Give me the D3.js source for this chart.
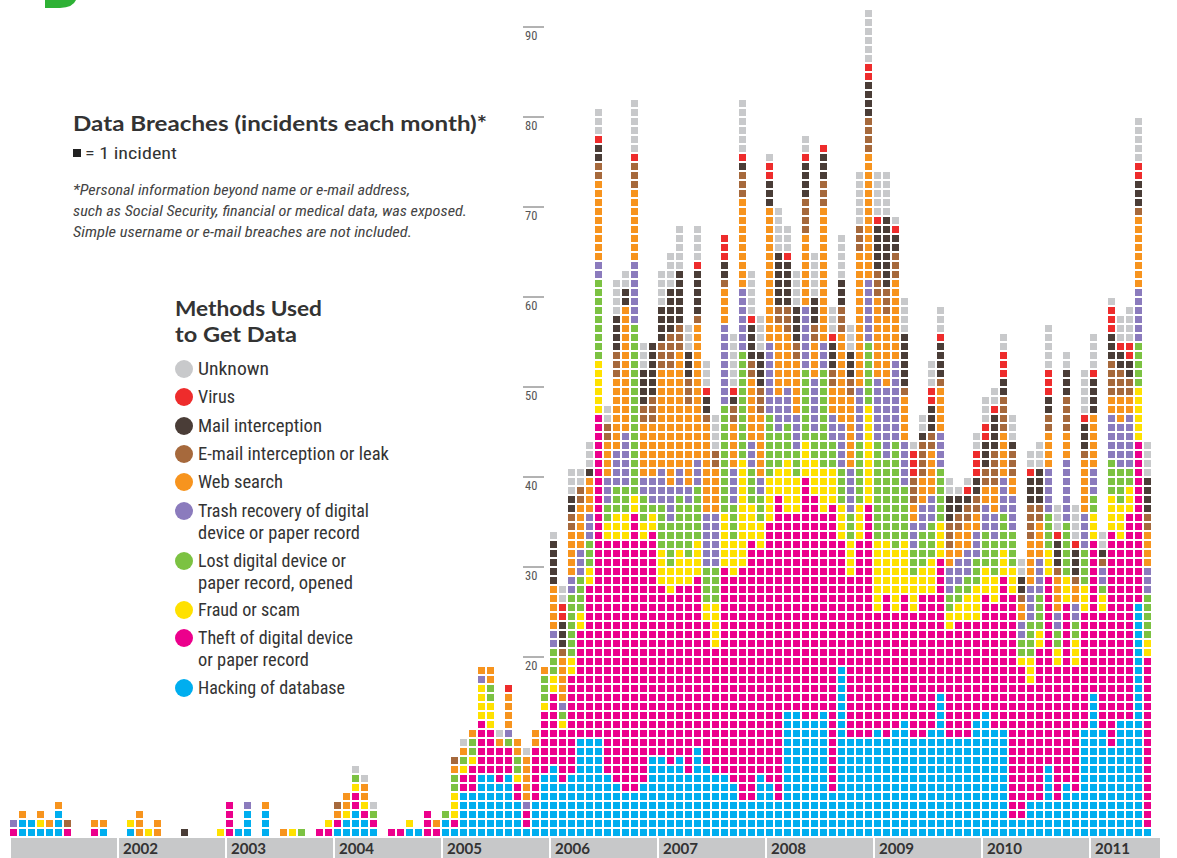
<!DOCTYPE html>
<html><head><meta charset="utf-8">
<script src="https://cdn.jsdelivr.net/npm/d3@7"></script>
<style>body{margin:0;background:#fff}svg{display:block}</style>
</head><body><svg id="c" width="1177" height="858"></svg>
<script>
// ---------- DATA ----------
const years = [2001,2002,2003,2004,2005,2006,2007,2008,2009,2010,2011];
const yearLabels = ["","2002","2003","2004","2005","2006","2007","2008","2009","2010","2011"];
const nMonths = 127; // Jan 2001 .. Jul 2011
const months = d3.range(nMonths).map(i => years[Math.floor(i/12)] + "-" + String(i%12+1).padStart(2,"0"));
const yTicks = [20,30,40,50,60,70,80,90];

// stack order bottom -> top
const categories = ["Hacking of database","Theft of digital device or paper record","Fraud or scam",
  "Lost digital device or paper record, opened","Trash recovery of digital device or paper record",
  "Web search","E-mail interception or leak","Mail interception","Virus","Unknown"];

const hacking = [0,2,2,1,1,3,0,0,0,0, 1,0,0,1,0,0,0,0,0,0, 0,0,0,0,0,1,3,0,3,0, 0,0,0,0,0,0,1,2,3,2,
 1,0,0,0,1,1,0,0,2,1, 5,5,7,7,6,7,4,1,4,7, 8,6,7,11,11,11,7,6,5,5, 6,9,9,8,9,7,10,8,7,7,
 6,4,4,7,6,4,14,14,13,13, 14,5,19,11,11,11,12,11,12,13, 11,11,12,16,11,11,11,13,14,12,
 12,2,2,4,4,8,4,6,5,12, 16,12,10,13,13,26,1];
const theft = [1,0,0,0,0,0,1,0,0,1, 0,0,0,0,0,0,0,0,0,0, 0,0,0,0,4,0,0,0,0,0, 0,0,0,0,1,1,1,0,2,1,
 1,0,1,1,0,0,3,1,0,1, 2,3,6,5,4,3,2,2,6,7, 8,6,11,12,17,36,26,27,28,31, 27,25,19,19,19,21,19,16,14,23,
 23,26,29,25,29,34,22,22,27,25, 22,32,14,18,22,26,13,16,13,14, 14,16,15,15,12,13,13,11,13,14,
 17,25,17,13,17,21,15,20,14,13, 17,13,24,20,23,18,19];
const fraud = [0,0,0,1,0,0,0,0,0,0, 0,0,0,1,0,1,0,0,0,0, 0,0,0,1,0,0,0,0,0,0, 0,1,0,0,0,1,0,1,1,1,
 0,0,0,0,1,0,0,0,0,3, 1,1,4,3,0,0,1,0,0,1, 2,1,2,2,2,6,2,3,3,2, 2,2,4,3,4,3,4,2,5,6,
 4,12,4,3,5,3,6,4,4,4, 5,4,4,4,4,11,8,6,7,6, 4,3,4,4,2,2,3,4,3,3,
 3,3,1,3,2,3,2,3,3,3, 3,2,4,4,3,6,2];
const lost = [0,0,0,0,0,0,0,0,0,0, 0,0,0,0,0,0,0,0,0,0, 0,0,0,0,0,0,0,0,0,0, 0,0,1,0,0,0,0,0,1,0,
 1,0,0,0,0,0,0,0,1,2, 1,2,0,2,0,1,2,0,0,3, 3,1,7,4,3,9,2,3,3,19, 3,1,5,5,6,6,6,4,4,12,
 4,12,4,3,7,4,4,3,8,3, 11,3,4,3,7,7,11,9,12,6, 3,4,4,6,2,2,2,3,4,4,
 4,4,2,4,4,4,2,6,2,4, 2,1,4,4,2,5,5];
const trash = [1,0,0,0,0,0,0,0,0,0, 0,0,0,0,0,0,0,0,0,0, 0,0,0,0,0,0,1,0,0,0, 0,0,0,0,0,0,0,0,0,0,
 0,0,0,0,0,0,0,0,0,0, 0,0,1,0,0,1,0,1,0,0, 2,1,2,3,3,2,3,4,6,7, 2,3,4,4,3,2,3,6,6,9,
 4,7,3,2,8,4,4,4,7,6, 3,3,5,5,6,7,7,8,9,5, 3,3,3,4,3,3,3,3,3,3,
 4,4,2,4,4,5,2,7,2,4, 3,2,5,5,6,6,3];
const web = [0,1,0,1,1,1,0,0,0,1, 1,0,0,0,3,0,2,0,0,0, 0,0,0,0,0,0,0,0,1,0, 1,0,0,0,0,0,1,2,0,2,
 0,0,0,0,0,0,0,1,0,1, 1,1,1,2,1,4,2,5,2,1, 5,5,5,5,4,9,4,8,14,8, 6,6,11,13,13,9,15,10,5,4,
 5,10,7,7,15,8,6,6,8,4, 15,3,10,8,15,14,9,8,9,5, 2,3,5,5,2,3,3,2,2,3,
 5,2,2,5,4,4,4,3,2,6, 6,0,2,3,2,8,4];
const email = [0,0,0,0,0,0,1,0,0,0, 0,0,0,0,0,0,0,0,0,0, 0,0,0,0,0,0,0,0,0,0, 0,0,0,0,0,0,1,0,0,0,
 0,0,0,0,0,0,0,0,0,1, 0,0,0,0,0,0,0,0,0,0, 0,1,2,2,0,2,2,3,0,3, 2,3,3,4,3,3,1,1,2,1,
 2,3,2,3,0,2,3,2,4,2, 3,2,3,2,3,4,3,3,3,1, 3,4,2,1,3,2,2,2,2,4,
 4,3,1,4,2,2,1,4,1,1, 0,1,4,3,2,1,2];
const mail = [0,0,0,0,0,0,0,0,0,0, 0,0,0,0,0,0,0,0,0,1, 0,0,0,0,0,0,0,0,0,0, 0,0,0,0,0,0,0,0,0,0,
 0,0,0,0,0,0,0,0,0,0, 0,0,0,0,0,0,0,0,0,0, 5,3,2,0,1,2,0,4,2,0, 4,6,4,5,6,3,5,2,0,2,
 1,1,4,4,3,6,5,4,4,3, 3,3,3,3,0,4,5,8,2,6, 0,1,3,4,3,2,1,2,3,4,
 2,1,2,3,4,2,3,3,3,3, 4,1,3,2,2,3,4];
const virus = [0,0,0,0,0,0,0,0,0,0, 0,0,0,0,0,0,0,0,0,0, 0,0,0,0,0,0,0,0,0,0, 0,0,0,0,0,0,0,0,0,0,
 0,0,0,0,0,0,0,0,0,0, 0,0,0,0,0,1,0,0,0,0, 0,2,0,0,0,1,0,0,0,1, 0,0,0,0,0,0,1,1,0,3,
 1,1,1,0,2,0,1,0,1,0, 1,1,0,0,0,2,1,0,1,0, 3,0,2,1,0,0,1,3,2,1,
 3,0,0,1,0,3,1,0,1,1, 1,0,3,1,2,2,0];
const unknown = [0,0,0,0,0,0,0,0,0,0, 0,0,0,0,0,0,0,0,0,0, 0,0,0,0,0,0,0,0,0,0, 0,0,0,0,0,0,0,0,1,1,
 1,0,0,0,0,0,0,0,0,0, 1,0,0,0,1,0,0,1,0,0, 1,2,3,2,3,3,2,4,2,6, 3,0,4,4,5,3,4,3,4,0,
 6,6,5,4,1,5,3,4,2,5, 0,3,5,3,6,6,5,5,1,4, 1,2,3,3,2,1,1,2,3,2,
 2,3,2,2,3,5,3,2,4,5, 4,2,1,3,4,5,4];

const series = [hacking, theft, fraud, lost, trash, web, email, mail, virus, unknown];

// legend (top -> bottom), label lines
const legendItems = [
  {cat:"Unknown", lines:["Unknown"]},
  {cat:"Virus", lines:["Virus"]},
  {cat:"Mail interception", lines:["Mail interception"]},
  {cat:"E-mail interception or leak", lines:["E-mail interception or leak"]},
  {cat:"Web search", lines:["Web search"]},
  {cat:"Trash recovery of digital device or paper record", lines:["Trash recovery of digital","device or paper record"]},
  {cat:"Lost digital device or paper record, opened", lines:["Lost digital device or","paper record, opened"]},
  {cat:"Fraud or scam", lines:["Fraud or scam"]},
  {cat:"Theft of digital device or paper record", lines:["Theft of digital device","or paper record"]},
  {cat:"Hacking of database", lines:["Hacking of database"]}
];

// ---------- STYLE ----------
const colors = {
  "Hacking of database":"#00aeef",
  "Theft of digital device or paper record":"#ec008c",
  "Fraud or scam":"#ffe100",
  "Lost digital device or paper record, opened":"#7cc242",
  "Trash recovery of digital device or paper record":"#8b7bbd",
  "Web search":"#f7941e",
  "E-mail interception or leak":"#a6693c",
  "Mail interception":"#4a3d37",
  "Virus":"#ee2c2c",
  "Unknown":"#c8c9cb"
};
const condensed = "'Liberation Sans Narrow','Roboto Condensed','DejaVu Sans Condensed','Noto Sans',sans-serif";
const bold = "Lato,'Open Sans','Noto Sans',sans-serif";

const svg = d3.select("#c");

const x = d3.scaleBand().domain(months).range([10, 10 + nMonths*9 - 2]).paddingInner(2/9).paddingOuter(0);
const y = d3.scaleLinear().domain([0, 93]).range([837, 837 - 93*9]);

// green fragment at the top-left edge (cropped letter)
svg.append("path").attr("d","M45,0 L45,8 L60,8 Q73,7.5 76,0 Z").attr("fill","#2eb135");

// squares
const squares = [];
months.forEach((m, i) => {
  let k = 0;
  series.forEach((s, c) => {
    for (let j = 0; j < s[i]; j++) { squares.push({m, k, cat: categories[c]}); k++; }
  });
});
svg.append("g").selectAll("rect").data(squares).join("rect")
  .attr("x", d => x(d.m))
  .attr("y", d => y(d.k + 1) + 1)
  .attr("width", x.bandwidth())
  .attr("height", d => y(d.k) - y(d.k + 1) - 2)
  .attr("fill", d => colors[d.cat]);

// y axis labels
const yg = svg.append("g");
yTicks.forEach(t => {
  yg.append("line").attr("x1",523).attr("x2",544).attr("y1",y(t)).attr("y2",y(t))
    .attr("stroke","#666").attr("stroke-width",1);
  yg.append("text").attr("x",525).attr("y",y(t)+13).attr("font-family",condensed)
    .attr("font-size",12.5).attr("fill","#555").text(t);
});

// bottom year band
const bg = svg.append("g");
years.forEach((yr, idx) => {
  const x0 = x(months[idx*12]) + 1;
  const x1 = idx < years.length - 1 ? x(months[(idx+1)*12]) - 1 : 1160;
  bg.append("rect").attr("x",x0).attr("y",838).attr("width",x1 - x0).attr("height",20).attr("fill","#c7c8c9");
  if (yearLabels[idx]) bg.append("text").attr("x",x0+4).attr("y",853.5).attr("font-family",bold)
    .attr("font-weight",700).attr("font-size",14.5).attr("fill","#333").attr("textLength",35)
    .attr("lengthAdjust","spacingAndGlyphs").text(yearLabels[idx]);
});

// title block
svg.append("text").attr("x",73).attr("y",131).attr("font-family",bold).attr("font-weight",700)
  .attr("font-size",20).attr("fill","#333").attr("textLength",414).attr("lengthAdjust","spacingAndGlyphs")
  .text("Data Breaches (incidents each month)*");
svg.append("rect").attr("x",73).attr("y",149).attr("width",8).attr("height",8).attr("fill","#222");
svg.append("text").attr("x",85).attr("y",159).attr("font-family",condensed).attr("font-size",17)
  .attr("fill","#333").attr("textLength",92).attr("lengthAdjust","spacingAndGlyphs").text("= 1 incident");
const foot = [
  ["*Personal information beyond name or e-mail address,",337],
  ["such as Social Security, financial or medical data, was exposed.",394],
  ["Simple username or e-mail breaches are not included.",339]
];
foot.forEach((f,i) => svg.append("text").attr("x",73).attr("y",195 + i*21).attr("font-family",condensed)
  .attr("font-style","italic").attr("font-size",14.5).attr("fill","#444")
  .attr("textLength",f[1]).attr("lengthAdjust","spacingAndGlyphs").text(f[0]));

svg.append("text").attr("x",175).attr("y",316).attr("font-family",bold).attr("font-weight",700)
  .attr("font-size",20).attr("fill","#333").attr("textLength",147).attr("lengthAdjust","spacingAndGlyphs").text("Methods Used");
svg.append("text").attr("x",175).attr("y",342).attr("font-family",bold).attr("font-weight",700)
  .attr("font-size",20).attr("fill","#333").attr("textLength",122).attr("lengthAdjust","spacingAndGlyphs").text("to Get Data");

// legend
const legY = [369,397,426,454,482,511,561,610,638,688];
const legW = {"Unknown":71,"Virus":37,"Mail interception":124,"E-mail interception or leak":191,"Web search":85,
  "Trash recovery of digital":171,"device or paper record":162,"Lost digital device or":148,"paper record, opened":155,
  "Fraud or scam":102,"Theft of digital device":155,"or paper record":111,"Hacking of database":147};
const lg = svg.append("g");
legendItems.forEach((it, i) => {
  lg.append("circle").attr("cx",184).attr("cy",legY[i]).attr("r",9).attr("fill",colors[it.cat]);
  it.lines.forEach((ln, j) => lg.append("text").attr("x",198).attr("y",legY[i] + 6 + j*22)
    .attr("font-family",condensed).attr("font-size",17.5).attr("fill","#333")
    .attr("textLength",legW[ln]).attr("lengthAdjust","spacingAndGlyphs").text(ln));
});
</script></body></html>
